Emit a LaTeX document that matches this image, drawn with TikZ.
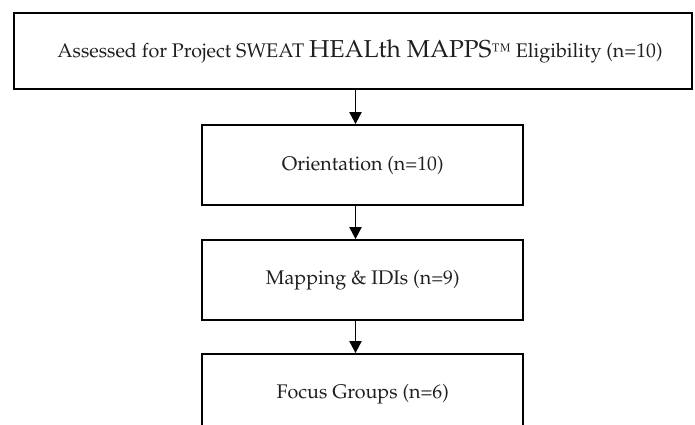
\documentclass[tikz,border=0pt]{standalone}
\usepackage[T1]{fontenc}
\usepackage{mathpazo}
\usepackage{textcomp}
\usetikzlibrary{arrows.meta}
\tikzset{
  stage/.style={draw=black, line width=1.8pt, fill=white, align=center,
    font=\fontsize{19.7}{23}\selectfont, text=black!88},
  flow/.style={line width=1.9pt, -{Triangle[length=12pt,width=12pt]}},
}
\begin{document}
\begin{tikzpicture}[x=1pt,y=-1pt]
\useasboundingbox (0,0) rectangle (695,424);
\clip (0,0) rectangle (695,424);
\fill[white] (0,0) rectangle (695,424);
% stages of the study
\node[stage, minimum width=678pt, minimum height=76pt] (assess) at (353,51)
  {\hspace*{14pt}Assessed for Project SWEAT {\fontsize{24.5}{28}\selectfont HEALth MAPPS}\texttrademark{} Eligibility (n=10)};
\node[stage, minimum width=321pt, minimum height=80pt] (orient) at (362.8,165) {Orientation (n=10)};
\node[stage, minimum width=321pt, minimum height=80pt] (mapping) at (362.8,280) {Mapping \& IDIs (n=9)};
\node[stage, minimum width=321pt, minimum height=80pt] (focus) at (362.8,394) {Focus Groups (n=6)};
% vertical spine of the flow arrows
\coordinate (spine) at (355.5,0);
\draw[flow] (assess.south -| spine) -- (orient.north -| spine);
\draw[flow] (orient.south -| spine) -- (mapping.north -| spine);
\draw[flow] (mapping.south -| spine) -- (focus.north -| spine);
\end{tikzpicture}
\end{document}
